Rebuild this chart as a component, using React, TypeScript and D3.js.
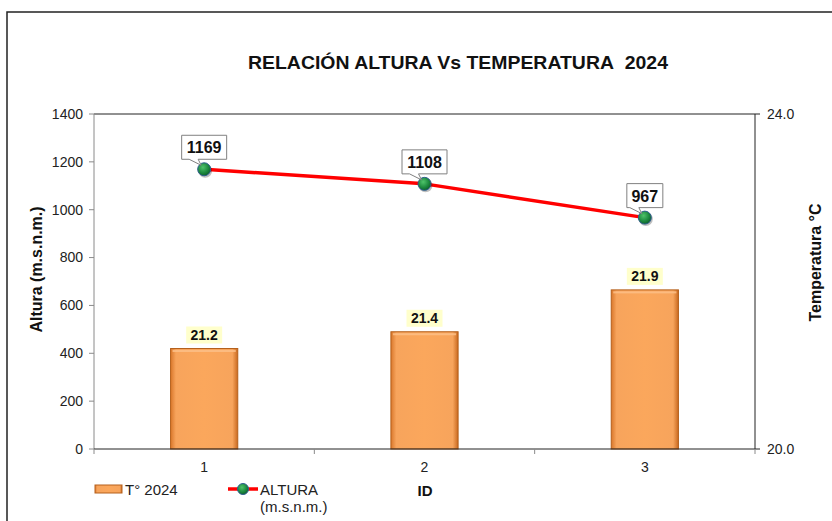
import React from 'react';
import * as d3 from 'd3';

// chart data
const categories = ['1', '2', '3'];
const temperatures = [21.2, 21.4, 21.9];
const altitudes = [1169, 1108, 967];
const leftTicks = [0, 200, 400, 600, 800, 1000, 1200, 1400];
const rightTicks = [20.0, 24.0];

const W = 832;
const H = 521;
const margin = { top: 114, right: 77, bottom: 72, left: 94 };
const FONT = 'Arial, "Liberation Sans", sans-serif';

export default function App() {
  const x = d3
    .scaleBand()
    .domain(categories)
    .range([margin.left, W - margin.right]);
  const yLeft = d3.scaleLinear().domain([0, 1400]).range([H - margin.bottom, margin.top]);
  const yRight = d3.scaleLinear().domain([20, 24]).range([H - margin.bottom, margin.top]);

  const x0 = margin.left;
  const x1 = W - margin.right;
  const yBase = H - margin.bottom;
  const yTop = margin.top;
  const barW = x.bandwidth() * 0.305;
  const cx = (c: string) => (x(c) as number) + x.bandwidth() / 2;

  const line = d3
    .line<number>()
    .x((_, i) => cx(categories[i]))
    .y((d) => yLeft(d));

  return (
    <svg
      width={W}
      height={H}
      style={{ position: 'absolute', left: 0, top: 0, background: '#fff' }}
      fontFamily={FONT}
    >
      <defs>
        <linearGradient id="barGrad" x1="0" x2="1" y1="0" y2="0">
          <stop offset="0" stopColor="#d9772b" />
          <stop offset="0.08" stopColor="#f7a45c" />
          <stop offset="0.5" stopColor="#fba75c" />
          <stop offset="0.92" stopColor="#f7a45c" />
          <stop offset="1" stopColor="#c9691f" />
        </linearGradient>
        <radialGradient id="dotGrad" cx="0.4" cy="0.35" r="0.7">
          <stop offset="0" stopColor="#4fc36a" />
          <stop offset="0.6" stopColor="#1d8a3f" />
          <stop offset="1" stopColor="#0c5a28" />
        </radialGradient>
      </defs>

      {/* outer frame */}
      <rect x={7} y={12} width={W + 20} height={H + 20} fill="none" stroke="#222" strokeWidth={1.5} />

      {/* title */}
      <text
        x={458}
        y={69}
        textAnchor="middle"
        fontSize={19}
        fontWeight="bold"
        fill="#111"
        textLength={420}
        lengthAdjust="spacingAndGlyphs"
      >
        RELACIÓN ALTURA Vs TEMPERATURA{'\u00a0\u00a0'}2024
      </text>

      {/* plot frame */}
      <line x1={x0} x2={x1} y1={yTop} y2={yTop} stroke="#222" strokeWidth={1} />
      <line x1={x0} x2={x0} y1={yTop} y2={yBase} stroke="#8a8a8a" strokeWidth={1} />
      <line x1={x1} x2={x1} y1={yTop} y2={yBase} stroke="#222" strokeWidth={1} />

      {/* left axis ticks */}
      {leftTicks.map((t) => (
        <g key={t}>
          <line x1={x0 - 5} x2={x0} y1={yLeft(t)} y2={yLeft(t)} stroke="#8a8a8a" />
          <text x={x0 - 11} y={yLeft(t)} dy="0.35em" textAnchor="end" fontSize={14} fill="#222">
            {t}
          </text>
        </g>
      ))}

      {/* right axis ticks */}
      {rightTicks.map((t) => (
        <g key={t}>
          <line x1={x1} x2={x1 + 5} y1={yRight(t)} y2={yRight(t)} stroke="#222" />
          <text x={x1 + 12} y={yRight(t)} dy="0.35em" textAnchor="start" fontSize={14} fill="#222">
            {t.toFixed(1)}
          </text>
        </g>
      ))}

      {/* bars */}
      {temperatures.map((v, i) => {
        const c = cx(categories[i]);
        const yv = yRight(v);
        return (
          <g key={'b' + i}>
            <rect
              x={c - barW / 2}
              y={yv}
              width={barW}
              height={yBase - yv}
              fill="url(#barGrad)"
              stroke="#b5601c"
              strokeWidth={1}
            />
            <rect
              x={c - barW / 2 + 2}
              y={yv + 1.5}
              width={barW - 4}
              height={2}
              fill="#fcc08a"
              opacity={0.8}
            />
            <rect x={c - 18} y={yv - 22} width={36} height={17} fill="#ffffcc" />
            <text x={c} y={yv - 8.5} textAnchor="middle" fontSize={14} fontWeight="bold" fill="#111">
              {v.toFixed(1)}
            </text>
          </g>
        );
      })}

      {/* bottom axis */}
      <line x1={x0} x2={x1} y1={yBase} y2={yBase} stroke="#222" strokeWidth={1} />
      {[...categories.map((c) => x(c) as number), x1].map((t, i) => (
        <line key={'xt' + i} x1={t} x2={t} y1={yBase} y2={yBase + 5} stroke="#8a8a8a" />
      ))}
      {categories.map((c) => (
        <text key={'xl' + c} x={cx(c)} y={472} textAnchor="middle" fontSize={14} fill="#222">
          {c}
        </text>
      ))}

      {/* altitude line */}
      <path d={line(altitudes) || ''} fill="none" stroke="#ff0000" strokeWidth={3.5} strokeLinejoin="round" />
      {altitudes.map((v, i) => {
        const px = cx(categories[i]);
        const py = yLeft(v);
        const label = String(v);
        const bw = label.length * 9 + 9;
        const bh = 24;
        const bottom = py - 10;
        const top = bottom - bh;
        const left = px - bw / 2;
        const right = px + bw / 2;
        const path = `M${left},${top}H${right}V${bottom}H${px - 6}L${px - 3},${py - 4}L${px - 15},${bottom}H${left}Z`;
        return (
          <g key={'p' + i}>
            <circle cx={px + 1} cy={py + 1.5} r={7} fill="#000" opacity={0.25} />
            <circle cx={px} cy={py} r={6.5} fill="url(#dotGrad)" stroke="#2f5f8f" strokeWidth={1} />
            <path d={path} fill="#fff" stroke="#808080" strokeWidth={1} />
            <text x={px} y={bottom - 6} textAnchor="middle" fontSize={16} fontWeight="bold" fill="#111">
              {label}
            </text>
          </g>
        );
      })}

      {/* axis titles */}
      <text
        transform={`translate(42,${(yTop + yBase) / 2 - 12}) rotate(-90)`}
        textAnchor="middle"
        fontSize={16}
        fontWeight="bold"
        fill="#111"
      >
        Altura (m.s.n.m.)
      </text>
      <text
        transform={`translate(821,${(yTop + yBase) / 2 - 19}) rotate(-90)`}
        textAnchor="middle"
        fontSize={16}
        fontWeight="bold"
        fill="#111"
      >
        Temperatura °C
      </text>
      <text x={425} y={496} textAnchor="middle" fontSize={15} fontWeight="bold" fill="#111">
        ID
      </text>

      {/* legend */}
      <rect x={95} y={485} width={27} height={8} fill="url(#barGrad)" stroke="#b5601c" />
      <text x={125} y={495} fontSize={15} fill="#222">
        T° 2024
      </text>
      <line x1={228} x2={258} y1={489} y2={489} stroke="#ff0000" strokeWidth={3.5} />
      <circle cx={243} cy={489} r={5.5} fill="url(#dotGrad)" stroke="#2f5f8f" strokeWidth={1} />
      <text x={260} y={495} fontSize={15} fill="#222">
        ALTURA
      </text>
      <text x={260} y={512} fontSize={15} fill="#222">
        (m.s.n.m.)
      </text>
    </svg>
  );
}
